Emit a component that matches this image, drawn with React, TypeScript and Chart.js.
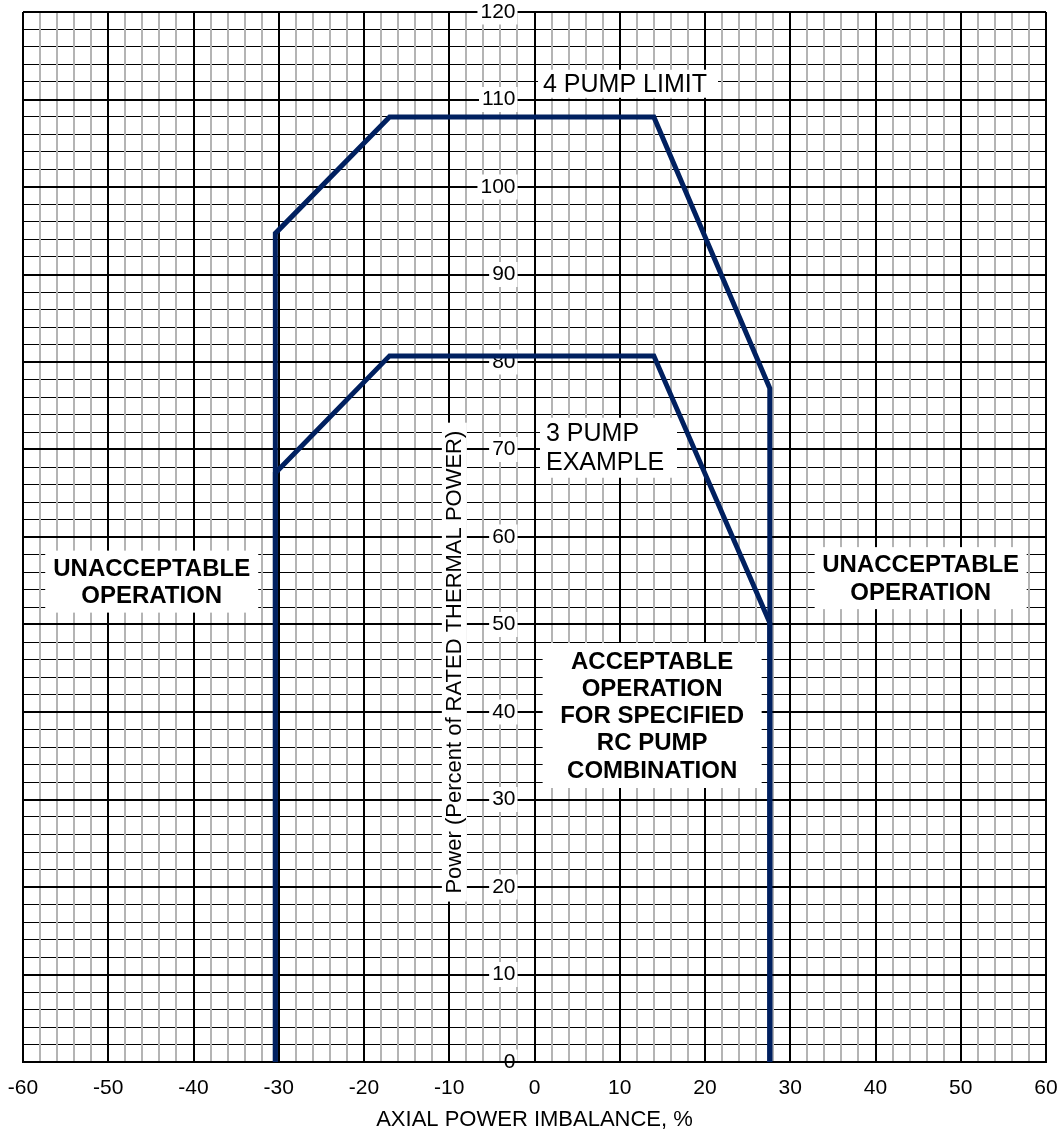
import React, { useEffect, useRef } from "react";
import { Chart, registerables } from "chart.js";

Chart.register(...registerables);

// ---- data ----
const fourPumpX = [-30.4, -30.4, -17, 14, 27.6, 27.6];
const fourPumpY = [0, 94.7, 108, 108, 77, 0];
const threePumpX = [-30.4, -30.4, -17, 14, 27.6, 27.6];
const threePumpY = [0, 67.3, 80.7, 80.7, 50.2, 0];

const xMin = -60;
const xMax = 60;
const yMin = 0;
const yMax = 120;
const majorStep = 10;
const minorStep = 2;

const xTitle = "AXIAL POWER IMBALANCE, %";
const yTitle = "Power (Percent of RATED THERMAL POWER)";

const noteTexts = [
  ["UNACCEPTABLE", "OPERATION"],
  ["UNACCEPTABLE", "OPERATION"],
  ["ACCEPTABLE", "OPERATION", "FOR SPECIFIED", "RC PUMP", "COMBINATION"],
  ["3 PUMP", "EXAMPLE"],
  ["4 PUMP LIMIT"],
];
const noteX = [-44.9, 45.3, 13.8, 1.35, 1.0];
const noteY = [54.9, 55.3, 39.6, 70.2, 111.8];

// ---- styling (not data) ----
const LINE_COLOR = "#002060";
const FONT = 'Arial, "Liberation Sans", sans-serif';
const noteStyles = [
  { align: "center", bold: true, size: 24, lh: 27, w: 213, h: 62 },
  { align: "center", bold: true, size: 24, lh: 28, w: 212, h: 62 },
  { align: "center", bold: true, size: 24, lh: 27.3, w: 219, h: 145 },
  { align: "left", bold: false, size: 25, lh: 29, w: 137, h: 60, padL: 6 },
  { align: "left", bold: false, size: 25, lh: 28, w: 180, h: 28, padL: 5 },
];

const toPoints = (xs: number[], ys: number[]) => xs.map((x, i) => ({ x, y: ys[i] }));

const annotationPlugin = {
  id: "notes",
  beforeDatasetsDraw(chart: any) {
    const { ctx, scales } = chart;
    const xs = scales.x;
    const ys = scales.y;
    ctx.save();

    // y axis title with white backdrop
    const tx = xs.getPixelForValue(-9.4);
    const ty = ys.getPixelForValue(45.7);
    ctx.font = `22px ${FONT}`;
    const tw = ctx.measureText(yTitle).width;
    ctx.translate(tx, ty);
    ctx.rotate(-Math.PI / 2);
    ctx.fillStyle = "#ffffff";
    ctx.fillRect(-tw / 2 - 8, -12.5, tw + 16, 25);
    ctx.fillStyle = "#000000";
    ctx.textAlign = "center";
    ctx.textBaseline = "middle";
    ctx.fillText(yTitle, 0, 1);
    ctx.setTransform(1, 0, 0, 1, 0, 0);

    noteTexts.forEach((lines, i) => {
      const st: any = noteStyles[i];
      const px = xs.getPixelForValue(noteX[i]);
      const py = ys.getPixelForValue(noteY[i]);
      const boxLeft = st.align === "center" ? px - st.w / 2 : px - st.padL;
      ctx.fillStyle = "#ffffff";
      ctx.fillRect(boxLeft, py - st.h / 2, st.w, st.h);
      ctx.fillStyle = "#000000";
      ctx.font = `${st.bold ? "bold " : ""}${st.size}px ${FONT}`;
      ctx.textAlign = st.align;
      ctx.textBaseline = "middle";
      const n = lines.length;
      lines.forEach((t, j) => {
        const ly = py + (j - (n - 1) / 2) * st.lh + 1;
        ctx.fillText(t, px, ly);
      });
    });
    ctx.restore();
  },
};

export default function App() {
  const ref = useRef<HTMLCanvasElement | null>(null);

  useEffect(() => {
    if (!ref.current) return;
    const lineDataset = (label: string, xs: number[], ys: number[]) => ({
      label,
      data: toPoints(xs, ys),
      showLine: true,
      borderColor: LINE_COLOR,
      backgroundColor: LINE_COLOR,
      borderWidth: 5,
      pointRadius: 0,
      borderJoinStyle: "miter",
      borderCapStyle: "butt",
      clip: false as any,
      xAxisID: "x",
      yAxisID: "y",
    });
    const chart = new Chart(ref.current, {
      type: "scatter",
      data: {
        datasets: [
          lineDataset("4 Pump Limit", fourPumpX, fourPumpY) as any,
          lineDataset("3 Pump Example", threePumpX, threePumpY) as any,
        ],
      },
      options: {
        animation: false,
        responsive: false,
        events: [],
        layout: { padding: { left: 23, right: 16, top: 12, bottom: 0 } },
        plugins: {
          legend: { display: false },
          tooltip: { enabled: false },
        },
        scales: {
          yMinor: {
            type: "linear",
            position: "left",
            min: yMin,
            max: yMax,
            ticks: { display: false, stepSize: minorStep },
            grid: { color: "#000000", lineWidth: 1, drawTicks: false, z: -5 },
            border: { display: false },
          },
          xMinor: {
            type: "linear",
            position: "bottom",
            min: xMin,
            max: xMax,
            ticks: { display: false, stepSize: minorStep },
            grid: { color: "#b4b4b4", lineWidth: 2, drawTicks: false, z: -4 },
            border: { display: false },
          },
          y: {
            type: "linear",
            position: "center",
            min: yMin,
            max: yMax,
            ticks: {
              stepSize: majorStep,
              color: "#000000",
              font: { family: FONT, size: 21, lineHeight: 1 },
              padding: 0,
              showLabelBackdrop: true,
              backdropColor: "#ffffff",
              backdropPadding: { left: 3, right: 2, top: 2, bottom: 2 },
            },
            grid: {
              color: "#000000",
              lineWidth: 2,
              drawTicks: true,
              tickLength: 19,
              tickColor: "rgba(0,0,0,0)",
              z: -2,
            },
            border: { display: true, color: "#000000", width: 2 },
          },
          x: {
            type: "linear",
            position: "bottom",
            min: xMin,
            max: xMax,
            ticks: {
              stepSize: majorStep,
              color: "#000000",
              font: { family: FONT, size: 21, lineHeight: 1.2 },
              padding: 0,
              maxRotation: 0,
            },
            grid: {
              color: "#000000",
              lineWidth: 2,
              drawTicks: true,
              tickLength: 13.4,
              tickColor: "rgba(0,0,0,0)",
              z: -2,
            },
            border: { display: true, color: "#000000", width: 2 },
            title: {
              display: true,
              text: xTitle,
              color: "#000000",
              font: { family: FONT, size: 22, lineHeight: 1.2 },
              padding: { top: 6, bottom: 0 },
            },
          },
        },
      },
      plugins: [annotationPlugin],
    });
    return () => chart.destroy();
  }, []);

  return (
    <div style={{ position: "fixed", left: 0, top: 0, width: 1062, height: 1133, background: "#ffffff" }}>
      <canvas ref={ref} width={1062} height={1133} style={{ width: 1062, height: 1133, display: "block" }} />
    </div>
  );
}
